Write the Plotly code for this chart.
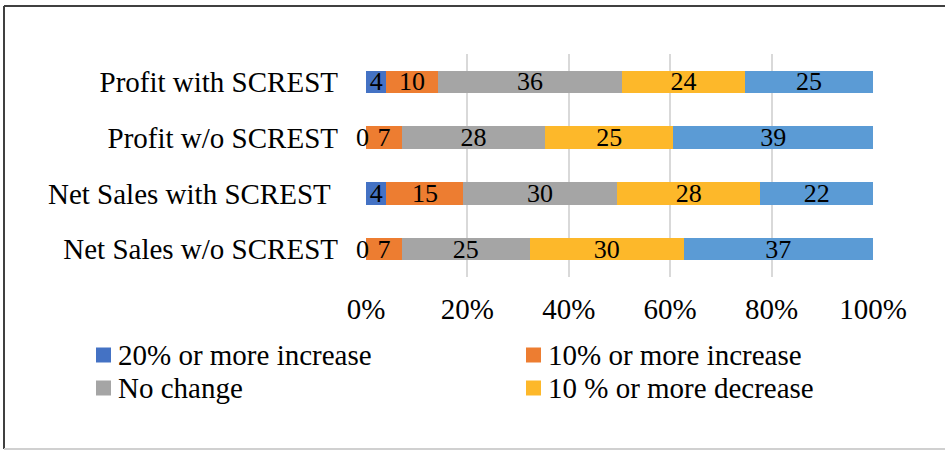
import plotly.graph_objects as go

# Survey responses (counts per row, shown as share of each row)
categories = ["Profit with SCREST", "Profit w/o SCREST",
              "Net Sales with SCREST\u00a0", "Net Sales w/o SCREST"]
series_names = ["20% or more increase", "10% or more increase", "No change",
                "10 % or more decrease", "20% or more decrease"]
inc20 = [4, 0, 4, 0]
inc10 = [10, 7, 15, 7]
no_change = [36, 28, 30, 25]
dec10 = [24, 25, 28, 30]
dec20 = [25, 39, 22, 37]
x_ticks = [0, 20, 40, 60, 80, 100]
x_tick_labels = ["0%", "20%", "40%", "60%", "80%", "100%"]

colors = ["#4472C4", "#ED7D31", "#A5A5A5", "#FDB82A", "#5B9BD5"]
FONT = "Liberation Serif"
W, H = 945, 450
L, R, T, B = 366, 72, 54, 173

series = [inc20, inc10, no_change, dec10, dec20]
fig = go.Figure()
for i, (name, vals) in enumerate(zip(series_names, series)):
    fig.add_trace(go.Bar(
        y=categories, x=vals, name=name, orientation="h",
        marker=dict(color=colors[i], line=dict(width=0)),
        text=[str(v) if v else "" for v in vals],
        textposition="inside", insidetextanchor="middle",
        constraintext="none", textangle=0, cliponaxis=False,
        textfont=dict(family=FONT, size=26, color="#000000"),
        showlegend=False, hoverinfo="skip",
    ))

# Zero-valued segments: label sits just left of where the segment starts
for r, cat in enumerate(categories):
    start = 0.0
    total = sum(s[r] for s in series)
    for s in series:
        if s[r] == 0:
            fig.add_annotation(x=100.0 * start / total, y=cat, xref="x", yref="y",
                               text=str(s[r]), showarrow=False,
                               xanchor="right", yanchor="middle", xshift=5,
                               font=dict(family=FONT, size=26, color="#000000"))
        start += s[r]

def px_x(p):
    return (p - L) / (W - L - R)

def px_y(p):
    return (H - B - p) / (H - T - B)

# Outer frame
frame = [
    dict(x0=4, x1=W + 5, y0=6, y1=6, color="#404040"),
    dict(x0=4, x1=4, y0=6, y1=449, color="#404040"),
    dict(x0=4, x1=W + 5, y0=449, y1=449, color="#D0D0D0"),
]
for f in frame:
    fig.add_shape(type="line", xref="paper", yref="paper",
                  x0=px_x(f["x0"]), x1=px_x(f["x1"]),
                  y0=px_y(f["y0"]), y1=px_y(f["y1"]),
                  line=dict(color=f["color"], width=2), layer="above")

# Legend in two columns (first four series)
legend_cols = [96, 526]
legend_rows = [355, 388]
for i in range(4):
    cx = legend_cols[i % 2]
    cy = legend_rows[i // 2]
    fig.add_shape(type="rect", xref="paper", yref="paper",
                  x0=px_x(cx), x1=px_x(cx + 15),
                  y0=px_y(cy - 7.5), y1=px_y(cy + 7.5),
                  fillcolor=colors[i], line=dict(width=0))
    fig.add_annotation(xref="paper", yref="paper",
                       x=px_x(cx + 20), y=px_y(cy), xanchor="left", yanchor="middle",
                       text=series_names[i], showarrow=False,
                       font=dict(family=FONT, size=29, color="#000000"))

fig.update_layout(
    width=W, height=H, autosize=False,
    margin=dict(l=L, r=R, t=T, b=B, pad=0),
    paper_bgcolor="white", plot_bgcolor="white",
    barmode="stack", barnorm="percent", bargap=0.6,
    font=dict(family=FONT, size=29, color="#000000"),
    showlegend=False,
    xaxis=dict(range=[0, 100.001], tickvals=x_ticks, ticktext=x_tick_labels,
               showgrid=True, gridcolor="#D9D9D9", gridwidth=2,
               zeroline=False, showline=False, ticks="",
               ticklabelstandoff=12, fixedrange=True,
               tickfont=dict(family=FONT, size=29)),
    yaxis=dict(autorange="reversed", showgrid=False, zeroline=False,
               showline=False, ticks="", ticklabelstandoff=27, fixedrange=True,
               tickfont=dict(family=FONT, size=29)),
)

fig.write_html("out.html")
